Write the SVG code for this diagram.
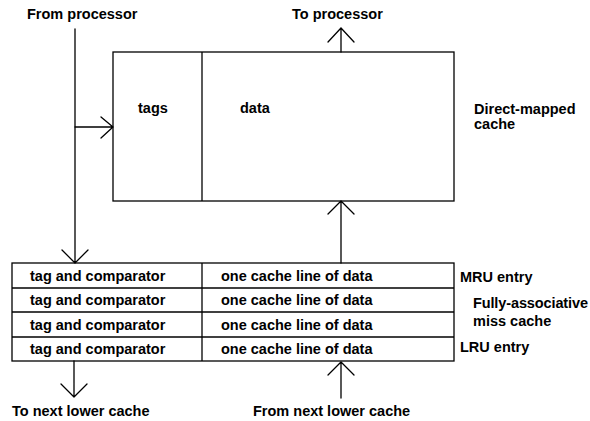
<svg xmlns="http://www.w3.org/2000/svg" width="590" height="421" viewBox="0 0 590 421">
<style>
.box{fill:none;stroke:#000;stroke-width:1.3}
.ln{fill:none;stroke:#000;stroke-width:1.3;stroke-linecap:round;stroke-linejoin:round}
text{font-family:"Liberation Sans",Arial,sans-serif;font-weight:bold;font-size:14.5px;fill:#000}
</style>
<rect width="590" height="421" fill="#fff"/>
<g id="direct-mapped-cache">
<rect class="box" x="113" y="52" width="341" height="149"/>
<line class="box" x1="202" y1="52" x2="202" y2="201"/>
<text x="138" y="113">tags</text>
<text x="240" y="113">data</text>
<text x="474" y="114">Direct-mapped</text>
<text x="474" y="129">cache</text>
</g>
<g id="miss-cache">
<rect class="box" x="12" y="263" width="442" height="98"/>
<line class="box" x1="12" y1="288" x2="454" y2="288"/>
<line class="box" x1="12" y1="312" x2="454" y2="312"/>
<line class="box" x1="12" y1="337" x2="454" y2="337"/>
<line class="box" x1="202" y1="263" x2="202" y2="361"/>
<text x="30" y="281">tag and comparator</text>
<text x="30" y="305">tag and comparator</text>
<text x="30" y="330">tag and comparator</text>
<text x="30" y="354">tag and comparator</text>
<text x="221" y="281">one cache line of data</text>
<text x="221" y="305">one cache line of data</text>
<text x="221" y="330">one cache line of data</text>
<text x="221" y="354">one cache line of data</text>
<text x="460" y="282">MRU entry</text>
<text x="473" y="308" textLength="115">Fully-associative</text>
<text x="473" y="326">miss cache</text>
<text x="460" y="352">LRU entry</text>
</g>
<g id="labels">
<text x="27" y="19">From processor</text>
<text x="292" y="19">To processor</text>
<text x="12" y="416">To next lower cache</text>
<text x="253" y="416">From next lower cache</text>
</g>
<g id="connectors">
<path class="ln" d="M75 29 V263 M62 250 L75 263 L88 250"/>
<path class="ln" d="M75 127 H113 M101 117 L113 127 L101 138"/>
<path class="ln" d="M341 52 V28 M328 42 L341 28 L354 42"/>
<path class="ln" d="M341 263 V201 M328 214 L341 201 L354 214"/>
<path class="ln" d="M74 361 V397 M61 384 L74 397 L87 384"/>
<path class="ln" d="M341 398 V362 M328 375 L341 362 L354 375"/>
</g>
</svg>
